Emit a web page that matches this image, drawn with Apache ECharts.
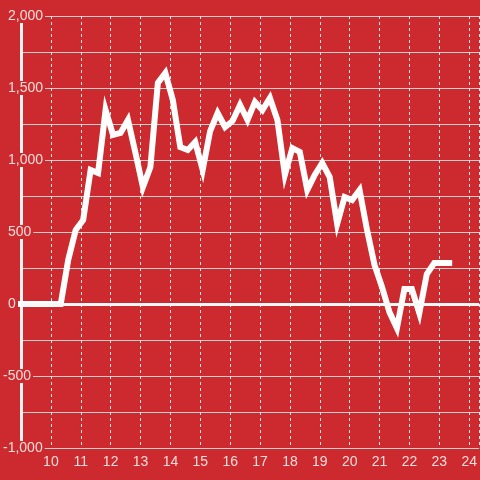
<!DOCTYPE html>
<html>
<head>
<meta charset="utf-8">
<script src="https://cdn.jsdelivr.net/npm/echarts@6/dist/echarts.min.js"></script>
<style>
html,body{margin:0;padding:0;background:#cc2a2e;}
#chart{width:480px;height:480px;}
</style>
</head>
<body>
<div id="chart"></div>
<script>
// Data (x in hours, y values)
const times = [9, 10.33, 10.58, 10.83, 11.08, 11.33, 11.58, 11.83, 12.08, 12.33, 12.58,
  12.83, 13.08, 13.33, 13.58, 13.83, 14.08, 14.33, 14.58, 14.83, 15.08,
  15.33, 15.58, 15.83, 16.08, 16.33, 16.58, 16.83, 17.08, 17.33, 17.58,
  17.83, 18.08, 18.33, 18.58, 18.83, 19.08, 19.33, 19.58, 19.83, 20.08,
  20.33, 20.58, 20.83, 21.08, 21.33, 21.58, 21.83, 22.08, 22.33, 22.58,
  22.83, 23.08, 23.33];
const values = [0, 0, 306, 514, 583, 931, 910, 1347, 1174, 1188, 1278,
  1049, 812, 951, 1535, 1604, 1417, 1090, 1069, 1125, 931,
  1201, 1326, 1229, 1271, 1382, 1278, 1403, 1347, 1431, 1278,
  896, 1083, 1056, 792, 896, 979, 882, 556, 743, 722,
  792, 514, 271, 118, -56, -167, 104, 104, -63, 208,
  285, 285, 285];
const xTicks = [10, 11, 12, 13, 14, 15, 16, 17, 18, 19, 20, 21, 22, 23, 24];

const RED = '#cc2a2e';
const LABEL = '#f6dcdc';
const fmt = n => String(n).replace(/\B(?=(\d{3})+(?!\d))/g, ',');

const chart = echarts.init(document.getElementById('chart'), null, {renderer: 'canvas'});
chart.setOption({
  backgroundColor: RED,
  animation: false,
  grid: {left: 20, right: 0, top: 16, bottom: 32, containLabel: false},
  xAxis: {
    type: 'value', min: 9, max: 24.3333, interval: 1,
    axisLine: {show: false},
    axisTick: {show: false},
    axisLabel: {
      color: LABEL, fontSize: 14, fontFamily: 'Liberation Sans', margin: 7,
      showMaxLabel: false,
      formatter: v => xTicks.indexOf(v) >= 0 ? String(v) : ''
    },
    splitLine: {show: true, lineStyle: {color: '#e6e6e6', width: 1, type: [3, 3]}}
  },
  yAxis: {
    type: 'value', min: -1000, max: 2000, interval: 500,
    axisLine: {show: true, lineStyle: {color: '#f4f4f4', width: 3}},
    axisTick: {show: false},
    axisLabel: {
      color: LABEL, fontSize: 14, fontFamily: 'Liberation Sans', margin: 18, align: 'left',
      backgroundColor: RED, padding: [0, 2, 0, 0],
      formatter: v => v < 0 ? '-' + fmt(-v) : '{p|}' + fmt(v),
      rich: {p: {width: 5}}
    },
    splitLine: {show: true, lineStyle: {color: '#cfcfcf', width: 1}},
    minorTick: {show: false, splitNumber: 2},
    minorSplitLine: {show: true, lineStyle: {color: '#cfcfcf', width: 1}}
  },
  series: [{
    type: 'line',
    data: times.map((t, i) => [t, values[i]]),
    showSymbol: false,
    symbol: 'none',
    lineStyle: {color: '#ffffff', width: 6, join: 'miter', cap: 'square'},
    markLine: {
      silent: true, symbol: 'none', label: {show: false},
      lineStyle: {color: '#f8f8f8', width: 3, type: 'solid'},
      data: [{yAxis: 0}]
    }
  }]
});
</script>
</body>
</html>
